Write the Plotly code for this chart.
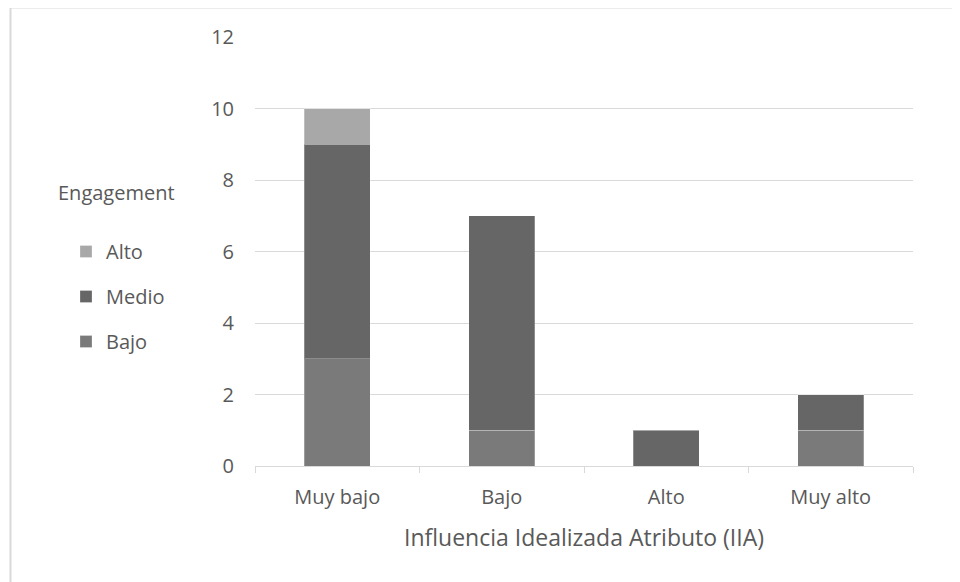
import plotly.graph_objects as go

categories = ["Muy bajo", "Bajo", "Alto", "Muy alto"]
bajo = [3, 1, 0, 1]
medio = [6, 6, 1, 1]
alto = [1, 0, 0, 0]
y_ticks = [0, 2, 4, 6, 8, 10, 12]

FONT = "Open Sans"
TXT = "#595959"

fig = go.Figure()
for name, vals, col, rank in [("Bajo", bajo, "#7a7a7a", 3), ("Medio", medio, "#666666", 2), ("Alto", alto, "#a8a8a8", 1)]:
    fig.add_trace(go.Bar(
        x=categories, y=vals, name=name, legendgroup=name, legendrank=rank,
        marker=dict(color=col, line=dict(color="rgba(255,255,255,0.25)", width=1)),
    ))

# page body has an 8px offset; targets below are in page pixels
OFF = 8
PL, PR, PT, PB = 255, 913, 37, 466
W, H = 960, 582
L, T = PL - OFF, PT - OFF
R = W - L - (PR - PL)
B = H - T - (PB - PT)
pw, ph = PR - PL, PB - PT

def px(x):
    return (x - PL) / pw

def py(y):
    return (PB - y) / ph

fig.update_layout(
    width=W, height=H, barmode="stack", bargap=0.6,
    margin=dict(l=L, r=R, t=T, b=B, autoexpand=False),
    paper_bgcolor="white", plot_bgcolor="white",
    font=dict(family=FONT, color=TXT, size=20),
    showlegend=True,
    legend=dict(
        x=px(66), y=py(232), xanchor="left", yanchor="top",
        traceorder="grouped", tracegroupgap=16,
        font=dict(size=20, color=TXT), itemwidth=30,
        bgcolor="rgba(0,0,0,0)",
    ),
    xaxis=dict(
        title=dict(text="Influencia Idealizada Atributo (IIA)", font=dict(size=23, color=TXT), standoff=20),
        showline=True, linecolor="#d9d9d9", linewidth=1,
        ticks="outside", tickson="boundaries", ticklen=6, tickcolor="#d9d9d9",
        tickfont=dict(size=20, color=TXT), showgrid=False, ticklabelstandoff=13,
    ),
    yaxis=dict(
        range=[0, 12], tickvals=y_ticks, showgrid=True, gridcolor="#d9d9d9", gridwidth=1,
        zeroline=False, showline=False, ticks="", ticklabelstandoff=20,
        tickfont=dict(size=20, color=TXT),
    ),
    annotations=[dict(text="Engagement", xref="paper", yref="paper", x=px(56), y=py(192),
                      xanchor="left", yanchor="middle", showarrow=False,
                      font=dict(size=20, color=TXT))],
    shapes=[dict(type="rect", xref="paper", yref="paper",
                 x0=px(10.5), x1=px(990), y0=py(610), y1=py(7.5),
                 line=dict(color="#d9d9d9", width=2), fillcolor="rgba(0,0,0,0)", layer="below")],
)

fig.write_html("out.html")
